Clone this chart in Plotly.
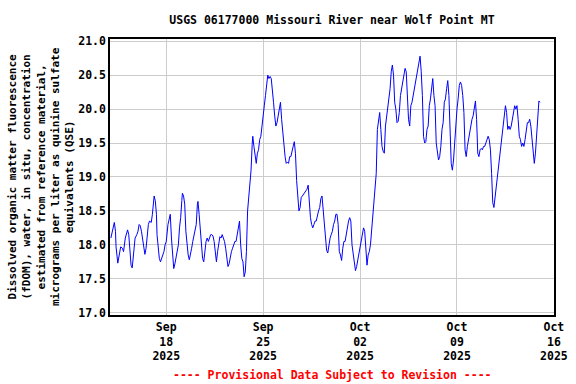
import pandas as pd
import plotly.graph_objects as go

# Hours since 2025-09-14 00:00 and fDOM values (ug/L QSE)
hours = [0, 3, 6, 8, 9, 12, 14, 17, 20, 22, 25, 28, 29, 31, 32, 35, 37, 39, 42, 45,
         47, 49, 51, 53, 55, 57, 59, 61, 63, 65, 67, 70, 72, 74, 75, 77, 79, 80, 82, 84,
         86, 88, 90, 92, 94, 96, 99, 101, 103, 105, 107, 109, 111, 113, 115, 117, 119, 121, 123, 124,
         126, 128, 130, 132, 134, 136, 138, 140, 142, 144, 146, 148, 150, 151, 153, 155, 157, 159,
         161, 163, 165, 167, 169, 171, 173, 175, 177, 179, 181, 183, 185, 187, 189, 191, 193, 195,
         197, 199, 201, 203, 205, 207, 209, 211, 213, 215, 217, 219, 221, 223, 225, 227, 229, 231,
         233, 235, 237, 239, 241, 243, 245, 246,
         248, 250, 252, 254, 256, 258, 260, 262, 264, 266, 268, 270, 272, 274, 276, 278, 280, 282,
         284, 286, 288, 290, 292, 294, 296, 298, 300, 302, 304, 306, 308, 310, 312, 314, 316, 318,
         320, 322, 324, 326, 328, 330, 332, 334, 336, 338, 340, 342, 344, 346, 348, 350, 352, 354,
         356, 358, 360, 362, 364, 366, 368, 370, 372, 374, 376, 378, 380, 382, 384, 386, 388, 390,
         392, 394, 396, 398, 400, 402, 404, 406, 408, 410, 412, 414, 416, 418, 420, 422, 424, 426,
         428, 430, 432, 434, 436, 438, 440, 442, 444, 446, 448, 450, 452, 454, 456, 458, 460, 462,
         464, 466, 468, 470, 472, 474, 476, 478, 480, 482, 484, 486, 488, 490, 492, 494, 496, 498,
         500, 502, 504, 506, 508, 510, 512, 514, 516, 518, 520, 522, 524, 526, 528, 530, 532, 534,
         536, 538, 540, 542, 544, 546, 548, 550, 552, 554, 556, 558, 560, 562, 564, 566, 568, 570,
         572, 574, 576, 578, 580, 582, 584, 586, 588, 590, 592, 594, 596, 598, 600, 602, 604, 606,
         608, 610, 612, 614, 616, 618, 620, 622, 624, 626, 628, 630, 632, 634, 636, 638, 640, 642,
         644, 646, 648, 650, 652, 654, 656, 658, 660, 662, 664, 666, 668, 670, 672, 674, 676, 678,
         680, 682, 684, 686, 688, 690, 692, 694, 696, 698, 700, 702, 704, 706, 708, 710, 712, 714,
         716, 718, 720, 722, 724, 726, 728, 730, 732, 734, 736, 738, 740, 742, 744]

fdom = [18.10, 18.20, 18.33, 18.20, 17.97, 17.73, 17.85, 17.97, 17.95, 17.90, 18.10, 18.20, 18.22, 18.15, 18.05, 17.70, 17.66, 17.88, 18.10, 18.15,
        18.20, 18.30, 18.28, 18.20, 18.10, 17.95, 17.86, 17.95, 18.10, 18.30, 18.35, 18.33, 18.45, 18.65, 18.72, 18.65, 18.45, 18.15, 18.00, 17.80,
        17.75, 17.80, 17.87, 17.90, 18.00, 18.05, 18.30, 18.40, 18.45, 18.10, 17.85, 17.65, 17.72, 17.80, 17.90, 18.00, 18.25, 18.40, 18.65, 18.76,
        18.72, 18.60, 18.20, 17.95, 17.85, 17.78, 17.85, 17.95, 18.05, 18.15, 18.25, 18.30, 18.60, 18.64, 18.45, 18.20, 18.00, 17.80,
        17.75, 17.95, 18.05, 18.10, 18.05, 18.10, 18.15, 18.15, 18.13, 18.05, 17.85, 17.75, 17.90, 18.05, 18.12, 18.10, 18.15, 18.10,
        18.05, 17.95, 17.80, 17.68, 17.72, 17.85, 17.90, 17.95, 18.00, 18.05, 18.05, 18.15, 18.25, 18.35, 18.00, 17.80, 17.75, 17.53,
        17.60, 17.90, 18.50, 18.70, 18.90, 19.10, 19.48, 19.60,
        19.45, 19.35, 19.20, 19.35, 19.40, 19.55, 19.60, 19.75, 19.95, 20.05, 20.20, 20.40, 20.50, 20.45, 20.48, 20.45, 20.30, 20.10,
        19.90, 19.75, 19.80, 19.90, 19.95, 20.10, 19.85, 19.65, 19.40, 19.30, 19.20, 19.22, 19.20, 19.30, 19.30, 19.40, 19.45, 19.52,
        19.35, 18.95, 18.75, 18.50, 18.55, 18.70, 18.72, 18.75, 18.78, 18.80, 18.82, 18.88, 18.60, 18.40, 18.30, 18.25, 18.30, 18.35,
        18.35, 18.45, 18.50, 18.55, 18.68, 18.72, 18.50, 18.30, 18.05, 17.92, 17.88, 18.00, 18.10, 18.15, 18.20, 18.30, 18.35, 18.45,
        18.45, 18.30, 17.90, 17.85, 17.77, 17.95, 18.05, 18.05, 18.15, 18.30, 18.35, 18.40, 18.35, 18.00, 17.85, 17.70, 17.62, 17.68,
        17.78, 17.85, 18.00, 18.10, 18.20, 18.25, 18.20, 18.00, 17.70, 17.85, 17.90, 18.00, 18.20, 18.45, 18.60, 18.85, 19.05, 19.70,
        19.85, 19.95, 19.70, 19.45, 19.38, 19.35, 19.75, 19.90, 20.05, 20.15, 20.30, 20.55, 20.65, 20.50, 20.10, 20.00, 19.80, 19.82,
        19.95, 20.20, 20.30, 20.45, 20.50, 20.60, 20.55, 20.20, 19.85, 19.75, 20.05, 20.10, 20.20, 20.25, 20.40, 20.45, 20.60, 20.70,
        20.78, 20.55, 20.20, 19.60, 19.50, 19.52, 19.70, 19.75, 20.05, 20.15, 20.30, 20.45, 20.20, 20.05, 19.50, 19.35, 19.25, 19.30,
        19.45, 19.70, 19.80, 20.10, 20.15, 20.30, 20.42, 20.20, 19.70, 19.20, 19.10, 19.25, 19.50, 19.80, 20.00, 20.15, 20.35, 20.40,
        20.35, 20.20, 19.95, 19.40, 19.30, 19.45, 19.55, 19.70, 19.75, 19.85, 19.90, 20.05, 20.12, 19.85, 19.35, 19.30, 19.40, 19.42,
        19.40, 19.45, 19.45, 19.50, 19.55, 19.60, 19.55, 19.40, 19.05, 18.62, 18.55, 18.70, 18.85, 18.95, 19.15, 19.30, 19.45, 19.60,
        19.75, 19.90, 20.05, 19.95, 19.70, 19.75, 19.70, 19.75, 19.85, 19.90, 20.05, 20.00, 20.05, 19.85, 19.60, 19.55, 19.45, 19.50,
        19.45, 19.55, 19.70, 19.80, 19.80, 19.85, 19.75, 19.55, 19.45, 19.20, 19.35, 19.60, 19.90, 20.12, 20.10]

tick_dates = ["2025-09-18", "2025-09-25", "2025-10-02", "2025-10-09", "2025-10-16"]
tick_labels = ["Sep<br>18<br>2025", "Sep<br>25<br>2025", "Oct<br>02<br>2025",
               "Oct<br>09<br>2025", "Oct<br>16<br>2025"]
y_ticks = [17.0, 17.5, 18.0, 18.5, 19.0, 19.5, 20.0, 20.5, 21.0]

times = pd.Timestamp("2025-09-14") + pd.to_timedelta(hours, unit="h")

FONT = "DejaVu Sans Mono"

fig = go.Figure()
fig.add_trace(go.Scatter(x=times, y=fdom, mode="lines",
                         line=dict(color="#0000FF", width=1), showlegend=False))

fig.update_layout(
    width=576, height=384,
    margin=dict(l=110, r=22, t=39, b=69, autoexpand=False),
    paper_bgcolor="white", plot_bgcolor="white",
    font=dict(family=FONT, size=11, color="black"),
    title=dict(text="<b>USGS 06177000 Missouri River near Wolf Point MT</b>",
               x=0.5, xref="paper", xanchor="center",
               y=1 - 20 / 384, yref="container", yanchor="middle",
               font=dict(family=FONT, size=11.5, color="black")),
)

fig.update_xaxes(
    range=["2025-09-13 22:30", "2025-10-16 00:10"],
    tickvals=tick_dates,
    ticktext=["<b>" + t.replace("<br>", "</b><br><b>") + "</b>" for t in tick_labels],
    tickangle=0, automargin=False,
    showgrid=True, gridcolor="#cccccc", gridwidth=1,
    showline=True, linecolor="black", linewidth=1.5, mirror=True,
    ticks="", zeroline=False,
    tickfont=dict(family=FONT, size=11.5, color="black"),
)
fig.update_yaxes(
    range=[16.966, 21.033],
    tickvals=y_ticks, ticktext=["<b>%.1f</b>" % v for v in y_ticks],
    automargin=False,
    showgrid=True, gridcolor="#cccccc", gridwidth=1,
    showline=True, linecolor="black", linewidth=1.5, mirror=True,
    ticks="", zeroline=False,
    tickfont=dict(family=FONT, size=11.5, color="black"),
)

fig.add_annotation(
    text="<b>Dissolved organic matter fluorescence<br>(fDOM), water, in situ, concentration<br>"
         "estimated from reference material,<br>micrograms per liter as quinine sulfate<br>"
         "equivalents (QSE)</b>",
    xref="paper", yref="paper", x=(41 - 110) / 444, y=0.5,
    xanchor="center", yanchor="middle", textangle=-90, showarrow=False,
    font=dict(family=FONT, size=11, color="black"),
)
fig.add_annotation(
    text="<b>---- Provisional Data Subject to Revision ----</b>",
    xref="paper", yref="paper", x=0.5, y=-(375 - 315) / 276,
    xanchor="center", yanchor="middle", showarrow=False,
    font=dict(family=FONT, size=11.5, color="red"),
)

fig.write_html(
    "out.html",
    config={"displayModeBar": False},
    post_script="document.body.style.margin='0';document.body.style.padding='0';",
)
